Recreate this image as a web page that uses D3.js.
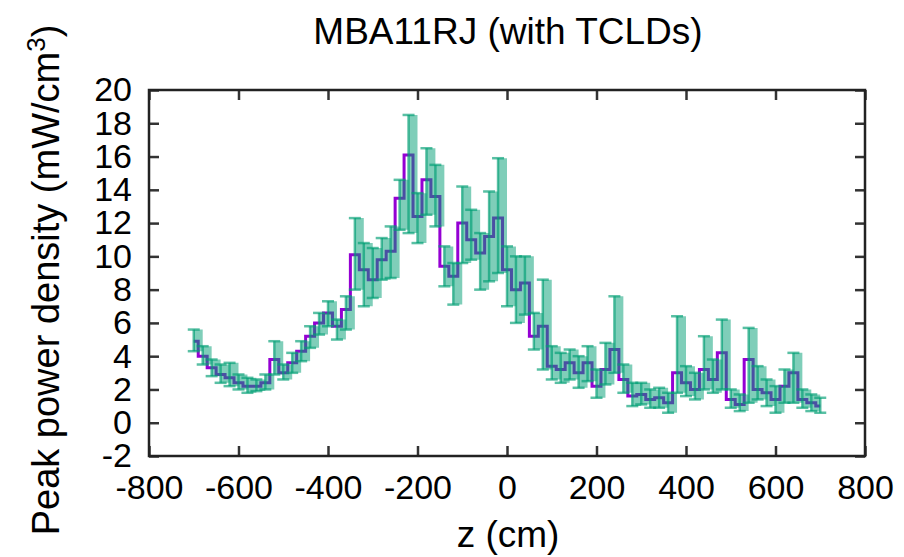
<!DOCTYPE html>
<html>
<head>
<meta charset="utf-8">
<script src="https://cdn.jsdelivr.net/npm/d3@7"></script>
<style>
  body { margin: 0; background: #fff; }
  text { font-family: "Liberation Sans", Arial, sans-serif; fill: #000; }
</style>
</head>
<body>
<div id="chart"></div>
<script>
// z positions (cm) and peak power density (mW/cm^3) with error limits
const zPos = [-700,-680,-660,-640,-620,-600,-580,-560,-540,-520,-500,-480,-460,-440,-420,-400,-380,-360,-340,-320,
  -300,-280,-260,-240,-220,-200,-180,-160,-140,-120,-100,-80,-60,-40,-20,0,20,40,60,80,
  100,120,140,160,180,200,220,240,260,280,300,320,340,360,380,400,420,440,460,480,
  500,520,540,560,580,600,620,640,660,680,700];
const peak = [4.9,4.0,3.3,2.9,2.7,2.4,2.2,2.2,2.4,3.8,3.0,3.6,4.3,5.2,6.0,6.6,5.8,6.8,10.1,9.2,
  8.6,9.8,10.3,13.5,16.1,12.4,14.6,13.6,9.4,8.8,12.0,11.0,10.2,11.2,12.3,9.2,8.0,8.4,5.2,5.8,
  3.4,3.2,3.6,3.0,3.6,2.2,3.2,4.4,2.6,1.6,1.7,1.4,1.5,1.2,3.0,2.4,2.0,3.2,2.6,4.2,
  1.4,1.1,3.8,2.0,1.8,1.4,2.2,3.0,1.4,1.2,1.0];
const errLow = [4.3,3.5,2.8,2.4,2.2,2.0,1.8,1.9,2.0,2.9,2.6,3.0,3.7,4.5,5.3,5.8,5.0,5.6,8.0,7.0,
  7.5,8.6,8.7,11.6,11.4,10.8,12.5,11.8,8.2,7.1,9.6,9.8,8.0,8.5,9.0,7.0,6.0,6.5,4.4,3.2,
  2.6,2.4,2.6,2.1,2.5,1.5,2.3,3.0,1.8,1.0,1.1,0.9,0.9,0.6,1.8,1.6,1.4,2.0,1.8,2.0,
  0.9,0.7,1.2,1.4,1.0,0.6,1.2,1.2,0.9,0.7,0.6];
const errHigh = [5.6,4.6,3.8,3.5,3.6,2.9,2.7,2.6,2.9,4.9,3.5,4.2,4.9,5.8,6.6,7.3,6.2,7.6,12.3,10.8,
  10.5,11.1,11.8,14.6,18.5,13.8,16.5,15.5,10.6,9.6,14.2,12.8,11.4,13.9,15.9,10.6,10.0,10.0,6.6,8.6,
  4.6,4.2,4.4,4.0,4.6,3.2,4.8,7.6,3.5,2.4,2.4,2.0,2.1,1.8,6.4,3.4,3.0,5.2,3.8,6.2,
  2.0,1.7,5.7,3.4,2.6,2.2,3.2,4.2,2.0,1.7,1.5];
const xTicks = [-800,-600,-400,-200,0,200,400,600,800];
const yTicks = [-2,0,2,4,6,8,10,12,14,16,18,20];

const data = zPos.map((z, i) => ({z: z, v: peak[i], lo: errLow[i], hi: errHigh[i]}));

const W = 904, H = 557;
const mLeft = 149, mRight = 865, mTop = 90, mBottom = 456;

const svg = d3.select("#chart").append("svg").attr("width", W).attr("height", H);

const x = d3.scaleLinear().domain([-800, 800]).range([mLeft, mRight]);
const y = d3.scaleLinear().domain([-2, 20]).range([mBottom, mTop]);

// purple step line (drawn underneath the green band)
const line = d3.line().x(d => x(d.z)).y(d => y(d.v)).curve(d3.curveStep);
svg.append("path").datum(data).attr("d", line)
  .attr("fill", "none").attr("stroke", "#9400d3").attr("stroke-width", 3);

// green error band
const band = d3.area().x(d => x(d.z)).y0(d => y(d.lo)).y1(d => y(d.hi)).curve(d3.curveStepAfter);
svg.append("path").datum(data).attr("d", band)
  .attr("fill", "#009e73").attr("fill-opacity", 0.5).attr("stroke", "none");

// error bars
const eb = svg.append("g").attr("stroke", "#009e73").attr("stroke-opacity", 0.65).attr("stroke-width", 2.5);
const capW = 6;
data.forEach(d => {
  eb.append("line").attr("x1", x(d.z)).attr("x2", x(d.z)).attr("y1", y(d.lo)).attr("y2", y(d.hi));
  eb.append("line").attr("x1", x(d.z) - capW).attr("x2", x(d.z) + capW).attr("y1", y(d.lo)).attr("y2", y(d.lo));
  eb.append("line").attr("x1", x(d.z) - capW).attr("x2", x(d.z) + capW).attr("y1", y(d.hi)).attr("y2", y(d.hi));
});

// axes with mirrored inward ticks
const tk = 10;
const fmt = d => String(d); // plain hyphen minus, like the original
const axB = d3.axisBottom(x).tickValues(xTicks).tickSizeInner(-tk).tickSizeOuter(0).tickPadding(19).tickFormat(fmt);
const axT = d3.axisTop(x).tickValues(xTicks).tickSizeInner(-tk).tickSizeOuter(0).tickFormat("");
const axL = d3.axisLeft(y).tickValues(yTicks).tickSizeInner(-tk).tickSizeOuter(0).tickPadding(17).tickFormat(fmt);
const axR = d3.axisRight(y).tickValues(yTicks).tickSizeInner(-tk).tickSizeOuter(0).tickFormat("");

function styleAxis(g) {
  g.select(".domain").remove();
  g.selectAll(".tick line").attr("stroke", "#333").attr("stroke-width", 2.5);
  g.selectAll(".tick text").attr("font-size", 34).attr("fill", "#000")
    .style("font-family", "'Liberation Sans', Arial, sans-serif");
}
svg.append("g").attr("transform", `translate(0,${mBottom})`).call(axB).call(styleAxis);
svg.append("g").attr("transform", `translate(0,${mTop})`).call(axT).call(styleAxis);
svg.append("g").attr("transform", `translate(${mLeft},0)`).call(axL).call(styleAxis);
svg.append("g").attr("transform", `translate(${mRight},0)`).call(axR).call(styleAxis);

svg.append("rect").attr("x", mLeft).attr("y", mTop).attr("width", mRight - mLeft).attr("height", mBottom - mTop)
  .attr("fill", "none").attr("stroke", "#222").attr("stroke-width", 2.5);

// titles
svg.append("text").attr("x", 508).attr("y", 44).attr("text-anchor", "middle")
  .attr("font-size", 37).text("MBA11RJ (with TCLDs)");
svg.append("text").attr("x", 508).attr("y", 547).attr("text-anchor", "middle")
  .attr("font-size", 37).text("z (cm)");

const yl = svg.append("text").attr("transform", "translate(59,280) rotate(-90)")
  .attr("text-anchor", "middle").attr("font-size", 38);
yl.append("tspan").text("Peak power density (mW/cm");
yl.append("tspan").attr("dy", -14).attr("font-size", 26).text("3");
yl.append("tspan").attr("dy", 14).text(")");
</script>
</body>
</html>
